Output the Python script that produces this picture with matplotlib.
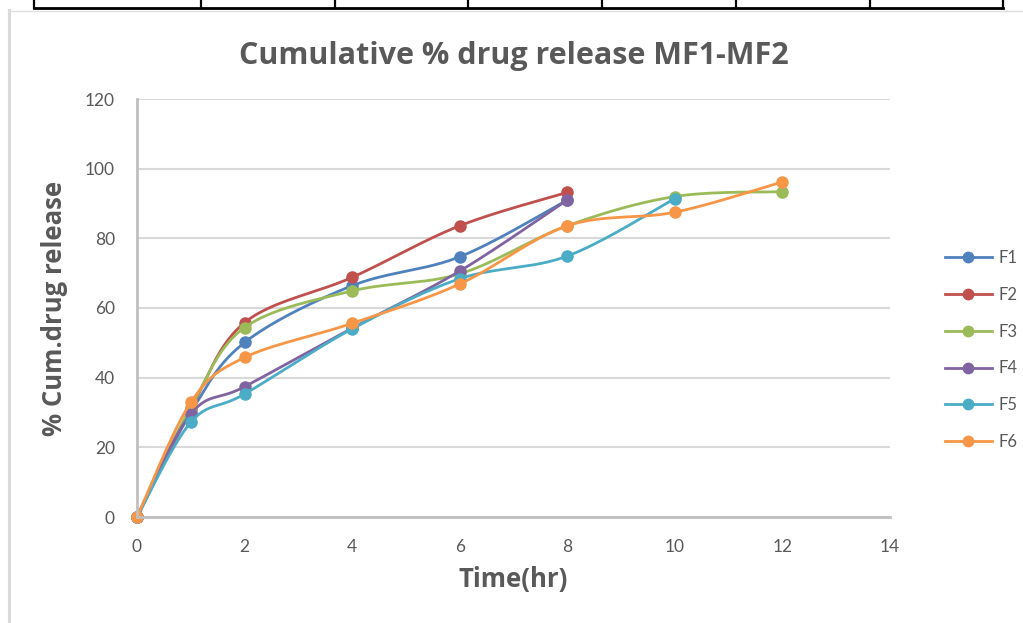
import numpy as np
import matplotlib
matplotlib.use("Agg")
from matplotlib import pyplot as plt
from matplotlib.lines import Line2D

# data
labels = ["F1", "F2", "F3", "F4", "F5", "F6"]
colors = ["#4F81BD", "#C0504D", "#9BBB59", "#8064A2", "#4BACC6", "#F79646"]

t1 = [0, 1, 2, 4, 6, 8]
f1 = [0, 30.0, 50.1, 66.4, 74.7, 91.0]
t2 = [0, 1, 2, 4, 6, 8]
f2 = [0, 31.0, 55.8, 68.8, 83.6, 93.2]
t3 = [0, 1, 2, 4, 6, 8, 10, 12]
f3 = [0, 31.5, 54.4, 64.9, 69.8, 83.6, 92.0, 93.4]
t4 = [0, 1, 2, 4, 6, 8]
f4 = [0, 29.6, 37.4, 54.2, 70.6, 91.0]
t5 = [0, 1, 2, 4, 6, 8, 10]
f5 = [0, 27.2, 35.3, 54.0, 68.4, 74.9, 91.4]
t6 = [0, 1, 2, 4, 6, 8, 10, 12]
f6 = [0, 32.9, 45.8, 55.6, 66.9, 83.6, 87.5, 96.2]

times = [t1, t2, t3, t4, t5, t6]
vals = [f1, f2, f3, f4, f5, f6]

x_ticks = [0, 2, 4, 6, 8, 10, 12, 14]
y_ticks = [0, 20, 40, 60, 80, 100, 120]


def smooth(x, y, n=30):
    # excel-like smoothed line: bezier segments, tension 1/6
    x = np.asarray(x, float)
    y = np.asarray(y, float)
    px = np.concatenate([[x[0]], x, [x[-1]]])
    py = np.concatenate([[y[0]], y, [y[-1]]])
    s = np.linspace(0, 1, n)
    xs, ys = [], []
    for i in range(len(x) - 1):
        p0 = np.array([px[i + 1], py[i + 1]])
        p3 = np.array([px[i + 2], py[i + 2]])
        c1 = p0 + (p3 - np.array([px[i], py[i]])) / 6
        c2 = p3 - (np.array([px[i + 3], py[i + 3]]) - p0) / 6
        b = ((1 - s) ** 3)[:, None] * p0 + (3 * (1 - s) ** 2 * s)[:, None] * c1 \
            + (3 * (1 - s) * s ** 2)[:, None] * c2 + (s ** 3)[:, None] * p3
        xs.append(b[:, 0])
        ys.append(b[:, 1])
    return np.concatenate(xs), np.concatenate(ys)


fig = plt.figure(figsize=(10.23, 6.23), dpi=100)
ax = fig.add_axes([137 / 1023, 106 / 623, 753 / 1023, 418 / 623])

handles = []
for t, v, c, lab in zip(times, vals, colors, labels):
    sx, sy = smooth(t, v)
    ax.plot(sx, sy, color=c, lw=2.0, solid_capstyle="round", clip_on=False)
    ax.plot(t, v, "o", color=c, ms=8, clip_on=False)
    handles.append(Line2D([], [], color=c, lw=2.0, marker="o", ms=7.5, label=lab))

ax.set_xlim(0, 14)
ax.set_ylim(0, 120)
ax.set_xticks(x_ticks)
ax.set_yticks(y_ticks)
ax.tick_params(length=0, labelsize=12.5, labelcolor="#595959")
ax.tick_params(axis="x", pad=16)
ax.tick_params(axis="y", pad=16)
for lbl in ax.get_xticklabels() + ax.get_yticklabels():
    lbl.set_family("Lato")
ax.grid(axis="y", color="#d9d9d9", lw=1.5)
ax.set_axisbelow(True)
for side in ["top", "right"]:
    ax.spines[side].set_visible(False)
for side in ["left", "bottom"]:
    ax.spines[side].set_color("#bfbfbf")
    ax.spines[side].set_linewidth(2)

ax.set_title("Cumulative % drug release MF1-MF2", fontsize=22, fontweight="bold",
             color="#595959", family="Open Sans", pad=25)
ax.set_xlabel("Time(hr)", fontsize=18.5, fontweight="bold", color="#595959",
              family="Open Sans", labelpad=8)
ax.set_ylabel("% Cum.drug release", fontsize=18.5, fontweight="bold", color="#595959",
              family="Open Sans", labelpad=12)

leg = fig.legend(handles=handles, loc="center left", bbox_to_anchor=(930 / 1023, 1 - 350 / 623),
                 frameon=False, fontsize=12, labelspacing=1.25, handlelength=2.8,
                 handletextpad=0.4)
for txt in leg.get_texts():
    txt.set_color("#595959")
    txt.set_family("Lato")

# chart frame (grey) and clipped table edge at the top
W, H = 1023, 623
fig.add_artist(Line2D([8.5 / W, 8.5 / W], [0, 1 - 10 / H], color="#d9d9d9", lw=2.2))
fig.add_artist(Line2D([8 / W, 1], [1 - 10.5 / H, 1 - 10.5 / H], color="#e0e0e0", lw=1))
fig.add_artist(Line2D([34 / W, 1003 / W], [1 - 8 / H, 1 - 8 / H], color="black", lw=2))
for xv in [34, 201, 335, 468, 602, 736, 870, 1003]:
    fig.add_artist(Line2D([xv / W, xv / W], [1 - 8 / H, 1], color="black", lw=1.6))

plt.savefig("out.png", dpi=100)
